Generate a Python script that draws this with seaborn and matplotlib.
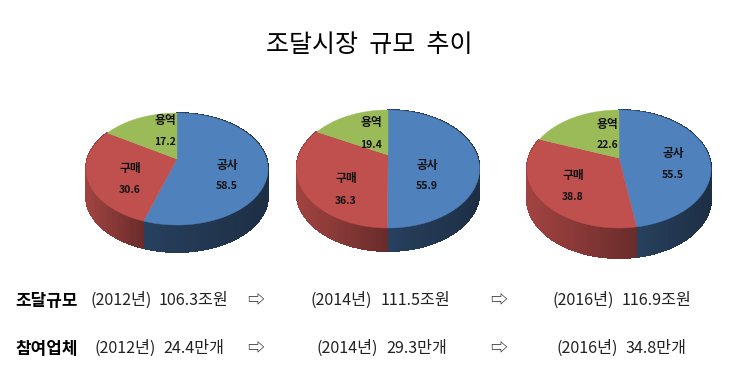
import numpy as np
import matplotlib
matplotlib.use("Agg")
import matplotlib.pyplot as plt
import seaborn as sns

# values
names = ["공사", "구매", "용역"]
values_2012 = [58.5, 30.6, 17.2]
values_2014 = [55.9, 36.3, 19.4]
values_2016 = [55.5, 38.8, 22.6]

title = "조달시장  규모  추이"
row_names = ["조달규모", "참여업체"]
years = ["(2012년)", "(2014년)", "(2016년)"]
amounts = ["106.3조원", "111.5조원", "116.9조원"]
firms = ["24.4만개", "29.3만개", "34.8만개"]

sns.set_theme(style="white")
plt.rcParams['font.family'] = ['Noto Sans CJK KR', 'DejaVu Sans']
colors = sns.color_palette(["#4F81BD", "#C0504D", "#9BBB59"])
side_shade = [(0.50, 0.36), (0.84, 0.55), (0.6, 0.5)]

fig = plt.figure(figsize=(7.38, 3.92), dpi=100)
ax = fig.add_axes([0, 0, 1, 1])
ax.set_xlim(0, 738)
ax.set_ylim(392, 0)
ax.axis("off")


def rim(theta, r, cx, cy, top, bot, hw):
    # unit disc to picture, with a bit of perspective so the far side is smaller
    x = r * np.sin(theta)
    y = r * np.cos(theta)
    up = cy - top
    down = bot - cy
    k = (down - up) / (down + up)
    a = up * (1 + k)
    b = hw * np.sqrt(1 - k * k)
    w = 1 + k * y
    return cx + b * x / w, cy - a * y / w


def pie3d(values, cx, cy, top, bot, hw, depth):
    edges = np.concatenate([[0], np.cumsum(values)]) / np.sum(values) * 2 * np.pi
    geo = (cx, cy, top, bot, hw)
    # side wall first
    for i in range(len(values)):
        t = np.linspace(edges[i], edges[i + 1], 80)
        x, y = rim(t, 1, *geo)
        front = np.where(np.cos(t) < 0.3)[0]
        if len(front) == 0:
            continue
        lo, hi = x[front].min(), x[front].max()
        s0, s1 = side_shade[i]
        # soft outline under the strips
        ax.fill(np.r_[x[front], x[front][::-1]], np.r_[y[front], y[front][::-1] + depth],
                color=[v * (s0 + s1) / 2 for v in colors[i]], lw=0.5, zorder=1)
        for j in range(len(t) - 1):
            u = (x[j] - lo) / max(hi - lo, 1)
            f = s0 + (s1 - s0) * np.clip(u, 0, 1)
            c = [v * f for v in colors[i]]
            ax.fill([x[j], x[j + 1], x[j + 1], x[j]],
                    [y[j], y[j + 1], y[j + 1] + depth, y[j] + depth],
                    facecolor=c, edgecolor=c, lw=0.7, antialiased=False, zorder=2)
    # top face
    for i in range(len(values)):
        t = np.linspace(edges[i], edges[i + 1], 120)
        x, y = rim(t, 1, *geo)
        ax.fill(np.r_[cx, x], np.r_[cy, y], color=colors[i], lw=0.3, zorder=3)


pie3d(values_2012, 177, 159, 113, 225, 91, 27)
pie3d(values_2014, 388, 155, 110, 228, 91.5, 23)
pie3d(values_2016, 619, 158, 110, 228, 92, 30)

# slice labels
label_pos = [
    [(227, 165, 186), (130, 168, 190), (165, 120, 142)],
    [(427, 165, 186), (346, 178, 201), (371, 122, 145)],
    [(673, 153, 175), (573, 175, 197), (607, 124, 145)],
]
for vals, pos in zip([values_2012, values_2014, values_2016], label_pos):
    for name, v, (x, y1, y2) in zip(names, vals, pos):
        ax.text(x, y1, name, fontsize=8.5, fontweight="bold", color="#111111",
                ha="center", va="center", zorder=5)
        ax.text(x, y2, f"{v:.1f}", fontsize=7.5, fontweight="bold", color="#111111",
                ha="center", va="center", zorder=5)

ax.text(369, 45, title, fontsize=18, color="black", ha="center", va="center")

# bottom table
rows = [(300.5, amounts, [90, 311, 552], [159, 381, 622]),
        (348.5, firms, [94, 316, 556], [163, 386, 626])]
for (y, items, xs_year, xs_item), rname in zip(rows, row_names):
    ax.text(15, y, rname, fontsize=12.2, fontweight="bold", color="black", va="center")
    for yr, item, xa, xb in zip(years, items, xs_year, xs_item):
        ax.text(xa, y, yr, fontsize=11.6, color="#222222", va="center")
        ax.text(xb, y, item, fontsize=11.6, color="#222222", va="center")
    for xa in [247, 490]:
        ax.text(xa, y, "⇨", fontsize=12, color="#222222", va="center")

fig.savefig("out.png", dpi=100)
